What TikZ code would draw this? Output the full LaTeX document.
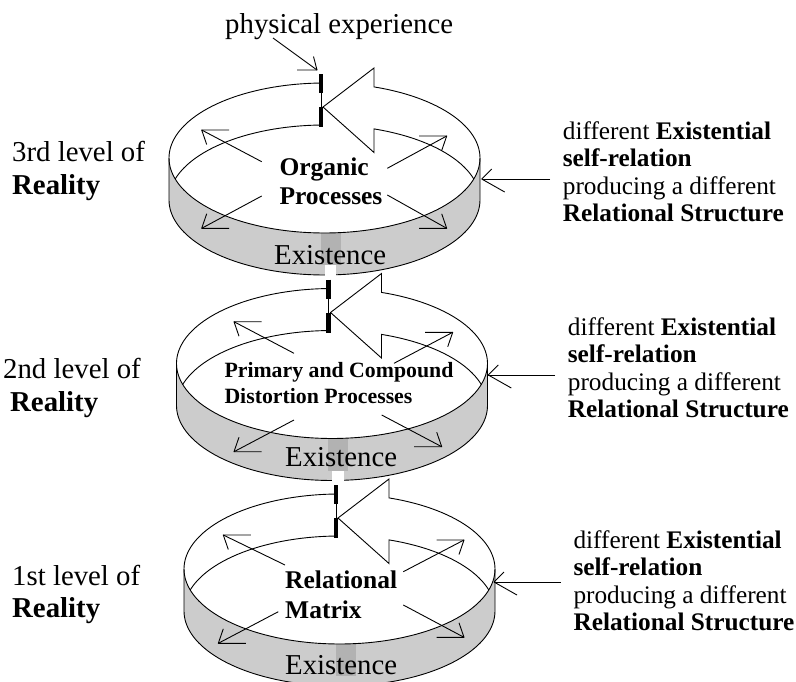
\documentclass[tikz,border=0pt]{standalone}
\usepackage{fontspec}
\setmainfont{Liberation Serif}
\usetikzlibrary{calc}

\definecolor{bandgray}{gray}{0.80}
\definecolor{seamgray}{gray}{0.70}

\tikzset{
  rim/.style={line width=0.9pt, black, line join=miter},
  barmark/.style={line width=4.5pt, black},
  thinarrow/.style={line width=0.9pt, black, line join=round},
  biglabel/.style={font=\fontsize{28.8}{34}\selectfont, inner sep=0pt, anchor=base west},
  sidelabel/.style={font=\fontsize{25.3}{28}\selectfont, inner sep=0pt, anchor=base west},
  ringlabel/.style={font=\fontsize{25.5}{29}\selectfont\bfseries, inner sep=0pt, anchor=base west},
  ringlabelsmall/.style={font=\fontsize{21.8}{26}\selectfont\bfseries, inner sep=0pt, anchor=base west},
}

% open ring band: rim ellipse 155.5 x 75, wall height 42,
% broken at the back with a block arrow head closing the loop
\newcommand\ringband{%
  % shaded outer front wall
  \fill[bandgray]
    plot[domain=0:180,samples=60] ({155.5*cos(\x)},{75*sin(\x)})
    -- plot[domain=180:0,samples=60] ({155.5*cos(\x)},{42+75*sin(\x)}) -- cycle;
  % darker seam where the two ends of the wall overlap
  \begin{scope}
    \clip plot[domain=0:180,samples=60] ({155.5*cos(\x)},{75*sin(\x)})
      -- plot[domain=180:0,samples=60] ({155.5*cos(\x)},{42+75*sin(\x)}) -- cycle;
    \fill[seamgray] (-4,60) rectangle (16,107);
  \end{scope}
  % back rim, sides, bottom edge and the arrow head
  \draw[rim]
    plot[domain=268.71:180,samples=50] ({155.5*cos(\x)},{75*sin(\x)})
    -- plot[domain=180:0,samples=80] ({155.5*cos(\x)},{42+75*sin(\x)})
    -- plot[domain=360:288.56,samples=40] ({155.5*cos(\x)},{75*sin(\x)})
    -- (49.5,-90) -- (-1.5,-51) -- (49.5,-5.5)
    -- plot[domain=288.56:343.74,samples=40] ({155.5*cos(\x)},{42+75*sin(\x)});
  % front rim
  \draw[rim] plot[domain=0:180,samples=80] ({155.5*cos(\x)},{75*sin(\x)});
  % lower edge of the inner back wall, left of the break
  \draw[rim] plot[domain=196.26:268.71,samples=50] ({155.5*cos(\x)},{42+75*sin(\x)});
  % tail marks at the break
  \draw[rim] (-3.5,-65) -- (-3.5,-51);
  \draw[barmark] (-3.5,-84) -- (-3.5,-65);
  \draw[barmark] (-3.5,-51) -- (-3.5,-31);
}
% small gap in the lower edge of the seam
\newcommand\seamnotch{\fill[white] (0,107) rectangle (11.5,119.5);}

% straight arrow with two open barbs (one horizontal, one steep)
\newcommand\barbedarrow[4]{%
  \draw[thinarrow] (#1) -- (#2);
  \draw[thinarrow] ($(#2)+(#3*27.5,0)$) -- (#2) -- ($(#2)+(#3*5,#4*14.5)$);
}

\begin{document}
\begin{tikzpicture}[x=1pt,y=-1pt]
\useasboundingbox (0,0) rectangle (796,681);
\clip (0,0) rectangle (796,681);

% ---------- the three levels ----------
\begin{scope}[shift={(324.5,158)}] \ringband \seamnotch \end{scope}
\begin{scope}[shift={(332,363.5)}] \ringband \seamnotch \end{scope}
\begin{scope}[shift={(339.5,569)}] \ringband \end{scope}

% ---------- top label ----------
\node[biglabel] (phys) at (225,33) {physical experience};
\coordinate (phys-s) at (273,38);
\coordinate (phys-t) at (317,70);
\draw[thinarrow] (phys-s) -- (phys-t);
\draw[thinarrow] ($(phys-t)+(-20,0)$) -- (phys-t) -- ($(phys-t)+(-3.5,-13.5)$);

% ---------- level labels ----------
\node[biglabel] (lv3a) at (12,161.7) {3rd level of};
\node[biglabel] (lv3b) at (12,194) {\textbf{Reality}};
\node[biglabel] (lv2a) at (3,378.5) {2nd level of};
\node[biglabel] (lv2b) at (10,411.5) {\textbf{Reality}};
\node[biglabel] (lv1a) at (12,585) {1st level of};
\node[biglabel] (lv1b) at (12,617) {\textbf{Reality}};

% ---------- texts inside the rings ----------
\node[ringlabel] (org1) at (279.3,175) {Organic};
\node[ringlabel] (org2) at (279.3,204) {Processes};
\node[ringlabelsmall] (dis1) at (224.3,377.3) {Primary and Compound};
\node[ringlabelsmall] (dis2) at (224.3,403.3) {Distortion Processes};
\node[ringlabel] (rel1) at (285,588.3) {Relational};
\node[ringlabel] (rel2) at (285,618.3) {Matrix};

\node[biglabel] (ex3) at (274,264) {Existence};
\node[biglabel] (ex2) at (285,466.7) {Existence};
\node[biglabel] (ex1) at (285,674) {Existence};

% ---------- arrows spreading from the ring texts ----------
\coordinate (a1s) at (261.7,161.7); \coordinate (a1t) at (201.7,130);
\coordinate (a2s) at (387.3,168.3); \coordinate (a2t) at (446.7,136);
\coordinate (a3s) at (261.7,196);   \coordinate (a3t) at (201.7,228.3);
\coordinate (a4s) at (387.3,195);   \coordinate (a4t) at (446.7,228.3);
\barbedarrow{a1s}{a1t}{1}{1}
\barbedarrow{a2s}{a2t}{-1}{1}
\barbedarrow{a3s}{a3t}{1}{-1}
\barbedarrow{a4s}{a4t}{-1}{-1}

\coordinate (b1s) at (294,353.3);   \coordinate (b1t) at (234,321.7);
\coordinate (b2s) at (394,363.3);   \coordinate (b2t) at (452.7,332.3);
\coordinate (b3s) at (294,420);     \coordinate (b3t) at (234,451.7);
\coordinate (b4s) at (381.7,415);   \coordinate (b4t) at (441.7,446.7);
\barbedarrow{b1s}{b1t}{1}{1}
\barbedarrow{b2s}{b2t}{-1}{1}
\barbedarrow{b3s}{b3t}{1}{-1}
\barbedarrow{b4s}{b4t}{-1}{-1}

\coordinate (c1s) at (285,565);     \coordinate (c1t) at (223.3,535);
\coordinate (c2s) at (403.3,571.7); \coordinate (c2t) at (464,540);
\coordinate (c3s) at (278.3,611.7); \coordinate (c3t) at (218.3,643.3);
\coordinate (c4s) at (403.3,605);   \coordinate (c4t) at (464,637.3);
\barbedarrow{c1s}{c1t}{1}{1}
\barbedarrow{c2s}{c2t}{-1}{1}
\barbedarrow{c3s}{c3t}{1}{-1}
\barbedarrow{c4s}{c4t}{-1}{-1}

% ---------- side notes with arrows into the ring walls ----------
\node[sidelabel] (n3a) at (562.7,139.2) {different \textbf{Existential}};
\node[sidelabel] (n3b) at (562.7,166.7) {\textbf{self-relation}};
\node[sidelabel] (n3c) at (562.7,194.2) {producing a different};
\node[sidelabel] (n3d) at (562.7,221.7) {\textbf{Relational Structure}};

\node[sidelabel] (n2a) at (567.7,335.2) {different \textbf{Existential}};
\node[sidelabel] (n2b) at (567.7,362.7) {\textbf{self-relation}};
\node[sidelabel] (n2c) at (567.7,390.2) {producing a different};
\node[sidelabel] (n2d) at (567.7,417.7) {\textbf{Relational Structure}};

\node[sidelabel] (n1a) at (573.3,548) {different \textbf{Existential}};
\node[sidelabel] (n1b) at (573.3,575.5) {\textbf{self-relation}};
\node[sidelabel] (n1c) at (573.3,603) {producing a different};
\node[sidelabel] (n1d) at (573.3,630.5) {\textbf{Relational Structure}};

\coordinate (s3s) at (550,179);   \coordinate (s3t) at (481.7,179);
\coordinate (s2s) at (555,375);   \coordinate (s2t) at (488.3,375);
\coordinate (s1s) at (560.7,582); \coordinate (s1t) at (494,582);
\foreach \s in {s3,s2,s1} {
  \draw[thinarrow] (\s s) -- (\s t);
  \draw[thinarrow] ($(\s t)+(10,-10)$) -- (\s t) -- ($(\s t)+(23,13)$);
}
\end{tikzpicture}
\end{document}
